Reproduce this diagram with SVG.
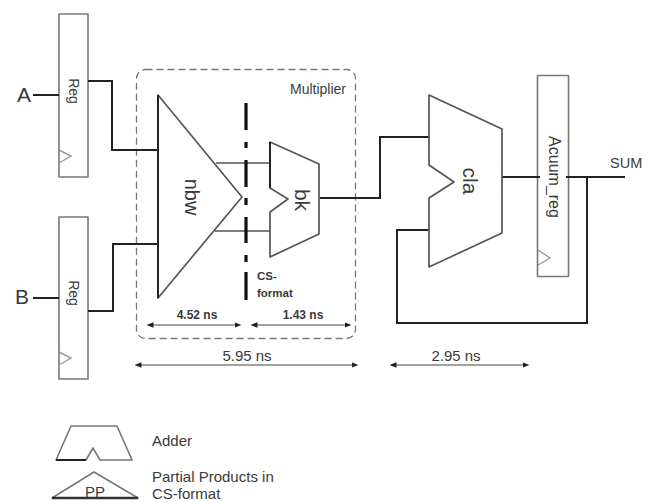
<svg xmlns="http://www.w3.org/2000/svg" width="652" height="502" viewBox="0 0 652 502">
<style>
text{font-family:"Liberation Sans",Arial,sans-serif;fill:#3a3a3a}
.s{fill:#fff;stroke:#777;stroke-width:1.6;stroke-linejoin:round}
.c{fill:none;stroke:#999;stroke-width:1.400}
.d{fill:#fff;stroke:#555;stroke-width:1.700;stroke-linejoin:round}
.e{fill:none;stroke:#222;stroke-width:2}
.w{fill:none;stroke:#222;stroke-width:2}
.t{fill:none;stroke:#555;stroke-width:1.500}
.a{fill:none;stroke:#444;stroke-width:1;marker-start:url(#m);marker-end:url(#m)}
</style>
<defs><marker id="m" viewBox="0 0 10 10" refX="5" refY="5" markerWidth="7" markerHeight="7" orient="auto-start-reverse" markerUnits="userSpaceOnUse"><path d="M0 1L10 5L0 9z" fill="#222"/></marker></defs>
<rect width="652" height="502" fill="#fff"/>
<g id="multiplier"><rect x="136.500" y="69.500" width="219" height="269" rx="9" fill="none" stroke="#777" stroke-width="1.300" stroke-dasharray="7 4"/><text x="346" y="94" font-size="14" text-anchor="end">Multiplier</text></g>
<g id="reg-a"><rect class="s" x="59" y="14" width="29" height="163"/><path class="c" d="M59 150L71 156L59 163"/><text transform="translate(69 91) rotate(90)" text-anchor="middle" font-size="14">Reg</text></g>
<g id="reg-b"><rect class="s" x="59" y="217" width="29" height="162"/><path class="c" d="M59 352L71 358L59 365"/><text transform="translate(69 293) rotate(90)" text-anchor="middle" font-size="14">Reg</text></g>
<g id="acum-reg"><rect class="s" x="537.500" y="75.500" width="31" height="201"/><path class="c" d="M538 250L550 258L538 265"/><text transform="translate(549 177) rotate(90)" text-anchor="middle" font-size="16">Acuum_reg</text></g>
<g id="connectors">
<path class="w" d="M33 95H59M88 81H112V150H158M33 298H59M88 311H113V244H158M320 198H380V137H429M502 177H540M566 177H625M587 177V323H397V230H429"/>
<path class="t" d="M216 163H271M215 231H271"/>
<path d="M246 103V130M246 142V148M246 160V187M246 198V205M246 217V243M246 255V262M246 272V300" fill="none" stroke="#111" stroke-width="3.200"/>
</g>
<g id="nbw"><path class="d" d="M158 95L242 197L158 298Z"/><path d="M158 95V298" stroke="#222" stroke-width="2"/><text transform="translate(185 197) rotate(90)" text-anchor="middle" font-size="20">nbw</text></g>
<g id="bk"><path class="d" d="M270 142L319 164V234L270 257V212L288 199L270 188Z"/><path d="M270 142V188" stroke="#222" stroke-width="2"/><text transform="translate(295 200) rotate(90)" text-anchor="middle" font-size="21">bk</text></g>
<g id="cla"><path class="d" d="M429 95L502 129V233L429 267V198L454 182L429 165Z"/><text transform="translate(463 181) rotate(90)" text-anchor="middle" font-size="21">cla</text></g>
<g id="labels">
<text x="17" y="102" font-size="21">A</text><text x="15" y="304" font-size="21">B</text>
<text x="610" y="168" font-size="14.500">SUM</text>
<text x="257" y="280" font-size="11.500" font-weight="bold">CS-</text><text x="257" y="297" font-size="11.500" font-weight="bold">format</text>
<path class="a" d="M150 325H238"/><text x="197" y="319" font-size="12" text-anchor="middle" font-weight="bold">4.52 ns</text>
<path class="a" d="M254 325H348"/><text x="303" y="319" font-size="12" text-anchor="middle" font-weight="bold">1.43 ns</text>
<path class="a" d="M138 365H355"/><text x="247" y="361" font-size="15" text-anchor="middle">5.95 ns</text>
<path class="a" d="M393 365H526"/><text x="456" y="361" font-size="15" text-anchor="middle">2.95 ns</text>
</g>
<g id="legend-adder"><path class="s" d="M56 460L71 426H117L132 460H100L93 448L86 460Z"/><path d="M56 460H86" stroke="#222" stroke-width="2"/><text x="152" y="446" font-size="15">Adder</text></g>
<g id="legend-pp"><path class="s" d="M52 498L94 472L138 498Z"/><path d="M52 498H138" stroke="#333" stroke-width="2.500"/><text x="95" y="497" font-size="15" text-anchor="middle">PP</text><text x="152" y="482" font-size="15">Partial Products in</text><text x="152" y="499" font-size="15">CS-format</text></g>
</svg>
